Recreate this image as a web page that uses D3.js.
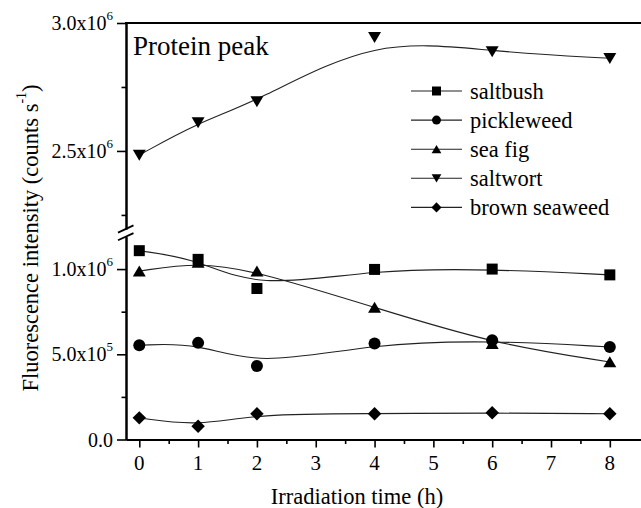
<!DOCTYPE html>
<html><head><meta charset="utf-8">
<script src="https://cdn.jsdelivr.net/npm/d3@7"></script>
</head><body style="margin:0"><svg id="c" width="641" height="508"></svg>
<script>
const times = [0, 1, 2, 4, 6, 8];
const saltbush = [1.108e6, 1.057e6, 0.886e6, 0.998e6, 1.000e6, 0.966e6];
const pickleweed = [0.553e6, 0.567e6, 0.431e6, 0.563e6, 0.582e6, 0.543e6];
const seaFig = [0.988e6, 1.040e6, 0.988e6, 0.775e6, 0.563e6, 0.455e6];
const saltwort = [2.484e6, 2.611e6, 2.693e6, 2.944e6, 2.888e6, 2.862e6];
const brownSeaweed = [0.127e6, 0.078e6, 0.151e6, 0.151e6, 0.157e6, 0.151e6];
const seriesNames = ["saltbush", "pickleweed", "sea fig", "saltwort", "brown seaweed"];
const xTicks = [0, 1, 2, 3, 4, 5, 6, 7, 8];
const xMinorTicks = [0.5, 1.5, 2.5, 3.5, 4.5, 5.5, 6.5, 7.5];
const yLowTicks = [0, 0.5e6, 1.0e6];
const yLowMinor = [0.25e6, 0.75e6];
const yLowLabels = [["0.0", ""], ["5.0x10", "5"], ["1.0x10", "6"]];
const yHighTicks = [2.5e6, 3.0e6];
const yHighMinor = [2.25e6, 2.75e6];
const yHighLabels = [["2.5x10", "6"], ["3.0x10", "6"]];

const svg = d3.select("#c");
function txt(parent) {
  return parent.append("text").style("font-family", '"Liberation Serif"').attr("fill", "#000");
}
const x = d3.scaleLinear().domain([-0.226, 8.53]).range([126, 641]);
const yLow = d3.scaleLinear().domain([0, 1.19e6]).range([439.5, 236.7]);
const yHigh = d3.scaleLinear().domain([2.195e6, 3.0e6]).range([229, 23]);
const AX = 126;

function styleAxis(g) {
  g.select(".domain").attr("stroke", "#000").attr("stroke-width", 2);
  g.selectAll(".tick line").attr("stroke", "#000").attr("stroke-width", 1.6);
  g.selectAll(".tick text").remove();
}
svg.append("g").attr("transform", `translate(${AX},0)`)
  .call(d3.axisLeft(yLow).tickValues(yLowTicks).tickSize(9).tickSizeOuter(0)).call(styleAxis);
svg.append("g").attr("transform", `translate(${AX},0)`)
  .call(d3.axisLeft(yLow).tickValues(yLowMinor).tickSize(4.5).tickSizeOuter(0)).call(styleAxis);
svg.append("g").attr("transform", `translate(${AX},0)`)
  .call(d3.axisLeft(yHigh).tickValues(yHighTicks).tickSize(9).tickSizeOuter(0)).call(styleAxis);
svg.append("g").attr("transform", `translate(${AX},0)`)
  .call(d3.axisLeft(yHigh).tickValues(yHighMinor).tickSize(4.5).tickSizeOuter(0)).call(styleAxis);

const xAxisY = 439.5;
svg.append("g").attr("transform", `translate(0,${xAxisY})`)
  .call(d3.axisBottom(x).tickValues(xTicks).tickSize(8).tickSizeOuter(0)).call(styleAxis);
svg.append("g").attr("transform", `translate(0,${xAxisY})`)
  .call(d3.axisBottom(x).tickValues(xMinorTicks).tickSize(4.5).tickSizeOuter(0)).call(styleAxis);

svg.append("line").attr("x1", AX - 1).attr("x2", 641).attr("y1", yHigh(3.0e6)).attr("y2", yHigh(3.0e6))
  .attr("stroke", "#000").attr("stroke-width", 2);

[yHigh.range()[0], yLow.range()[1]].forEach(yy => {
  svg.append("line").attr("x1", AX - 8).attr("y1", yy + 3.6).attr("x2", AX + 7.5).attr("y2", yy - 3.6)
    .attr("stroke", "#000").attr("stroke-width", 1.8);
});

function yLabel(yy, lab) {
  const t = txt(svg).attr("x", 113).attr("y", yy + 7).attr("text-anchor", "end").attr("font-size", 20);
  t.append("tspan").text(lab[0]);
  if (lab[1]) t.append("tspan").attr("font-size", 13).attr("dy", -10).text(lab[1]);
}
yLowTicks.forEach((v, i) => yLabel(yLow(v), yLowLabels[i]));
yHighTicks.forEach((v, i) => yLabel(yHigh(v), yHighLabels[i]));

xTicks.forEach(v => {
  txt(svg).attr("x", x(v)).attr("y", 470).attr("text-anchor", "middle").attr("font-size", 21).text(v);
});

txt(svg).attr("x", 357).attr("y", 504).attr("text-anchor", "middle").attr("font-size", 22.5).text("Irradiation time (h)");
const yt = txt(svg).attr("transform", "translate(38,238) rotate(-90)").attr("text-anchor", "middle").attr("font-size", 22.5);
yt.append("tspan").text("Fluorescence intensity (counts s");
yt.append("tspan").attr("font-size", 14).attr("dy", -12).text("-1");
yt.append("tspan").attr("dy", 12).text(")");

txt(svg).attr("x", 133).attr("y", 55).attr("font-size", 27).text("Protein peak");

function markerPath(kind, s) {
  const h = s / 2;
  switch (kind) {
    case "square": return `M${-h},${-h}H${h}V${h}H${-h}Z`;
    case "circle": return d3.symbol(d3.symbolCircle, Math.PI * h * h)();
    case "up": return `M0,${-h * 0.95}L${h * 1.08},${h * 0.9}L${-h * 1.08},${h * 0.9}Z`;
    case "down": return `M0,${h * 0.95}L${h * 1.08},${-h * 0.9}L${-h * 1.08},${-h * 0.9}Z`;
    case "diamond": return `M0,${-h * 1.12}L${h * 1.12},0L0,${h * 1.12}L${-h * 1.12},0Z`;
  }
}
const series = [
  { name: seriesNames[0], vals: saltbush, y: yLow, kind: "square", s: 11 },
  { name: seriesNames[1], vals: pickleweed, y: yLow, kind: "circle", s: 12 },
  { name: seriesNames[2], vals: seaFig, y: yLow, kind: "up", s: 12 },
  { name: seriesNames[3], vals: saltwort, y: yHigh, kind: "down", s: 12 },
  { name: seriesNames[4], vals: brownSeaweed, y: yLow, kind: "diamond", s: 12 }
];

series.forEach(sr => {
  const pts = times.map((t, i) => [x(t), sr.y(sr.vals[i])]);
  svg.append("path").attr("d", d3.line().curve(d3.curveBasis)(pts))
    .attr("fill", "none").attr("stroke", "#222").attr("stroke-width", 1.1);
});
series.forEach(sr => {
  svg.append("g").selectAll("path").data(times).join("path")
    .attr("transform", (t, i) => `translate(${x(t)},${sr.y(sr.vals[i])})`)
    .attr("d", markerPath(sr.kind, sr.s)).attr("fill", "#000");
});

series.forEach((sr, i) => {
  const ly = 91 + i * 29.1;
  svg.append("line").attr("x1", 411).attr("x2", 462).attr("y1", ly).attr("y2", ly)
    .attr("stroke", "#222").attr("stroke-width", 1.1);
  svg.append("path").attr("transform", `translate(436.5,${ly})`).attr("d", markerPath(sr.kind, 9)).attr("fill", "#000");
  txt(svg).attr("x", 470).attr("y", ly + 8).attr("font-size", 22.5).text(sr.name);
});
</script></body></html>
